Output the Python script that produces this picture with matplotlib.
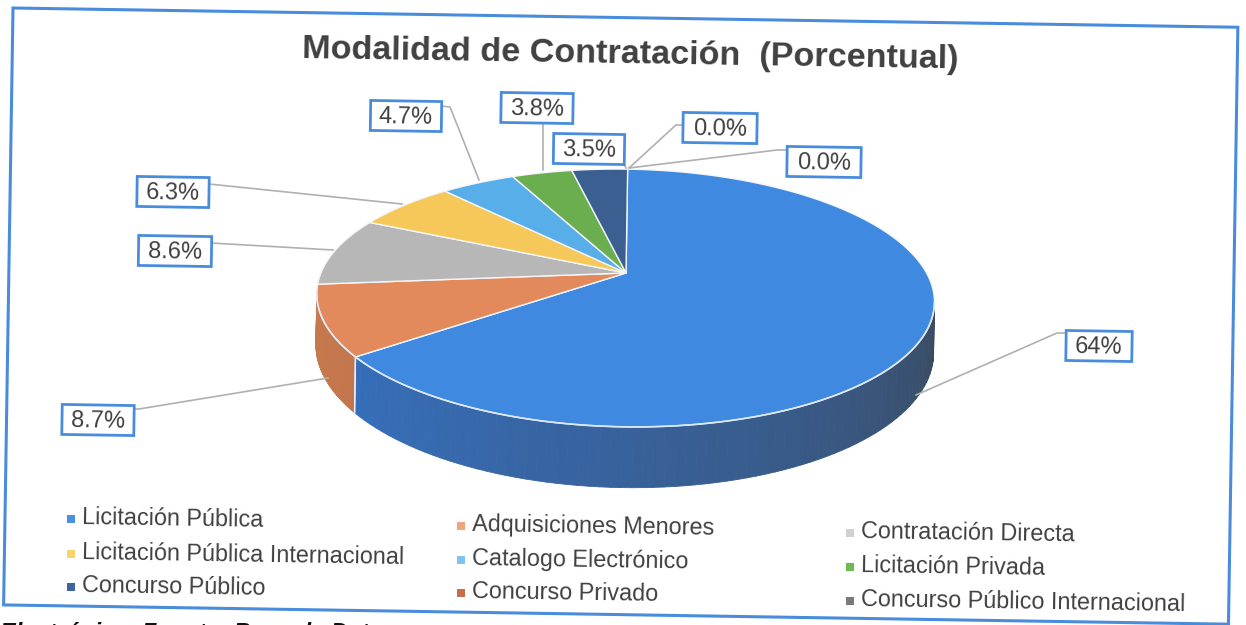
import numpy as np
import matplotlib
matplotlib.use("Agg")
import matplotlib.pyplot as plt
from matplotlib.patches import Polygon, Rectangle
from matplotlib.collections import PolyCollection
from matplotlib.transforms import Affine2D
from matplotlib.colors import to_rgb

# ---------------- data ----------------
categories = ["Licitación Pública", "Adquisiciones Menores", "Contratación Directa",
              "Licitación Pública Internacional", "Catalogo Electrónico", "Licitación Privada",
              "Concurso Público", "Concurso Privado", "Concurso Público Internacional"]
values = [64.0, 8.7, 8.6, 6.3, 4.7, 3.8, 3.5, 0.0, 0.0]
value_labels = ["64%", "8.7%", "8.6%", "6.3%", "4.7%", "3.8%", "3.5%", "0.0%", "0.0%"]
title = "Modalidad de Contratación  (Porcentual)"

# ---------------- styles ----------------
top_colors = ["#3f8ae0", "#e38a5c", "#b7b7b7", "#f6c859", "#58aee9",
              "#6aae4f", "#3a5f90", "#b8623a", "#6e6e6e"]
legend_colors = ["#4a8fe0", "#f0a57c", "#cfd0d6", "#f8d46a", "#7cc4f0",
                 "#6cbc52", "#3f64a2", "#c46e4c", "#7a7a7a"]
side_left = {0: "#3672c4", 1: "#c8794e"}
side_right = {0: "#3a4a5f", 1: "#9a5a3a"}

plt.rcParams["font.family"] = ["Liberation Sans", "DejaVu Sans"]
TXT = "#404040"
BORDER = "#4a8cdc"
TILT = 0.9  # scan skew, degrees clockwise

W, H = 1246, 625
fig = plt.figure(figsize=(W / 100, H / 100), dpi=100)
ax = fig.add_axes([0, 0, 1, 1])
ax.set_xlim(0, W)
ax.set_ylim(H, 0)
ax.axis("off")


def local_tr(x, y):
    return Affine2D().rotate_deg(TILT).translate(x, y) + ax.transData


# ---------------- frame ----------------
ax.add_patch(Rectangle((0, 0), 1225, 597, fill=False, ec=BORDER, lw=2.2,
                       transform=local_tr(13, 8), zorder=1))

# ---------------- title ----------------
ax.text(630, 55, title, fontsize=24.6, fontweight="bold", color=TXT,
        ha="center", va="center", rotation=-TILT, rotation_mode="anchor", zorder=5)

# ---------------- 3D pie (perspective) ----------------
apex = (626, 273)
A_R, B_R, K_P, DEPTH = 303.0, 124.0, 0.194, 49.0
pie_tr = local_tr(*apex)


def proj(theta, drop=0.0):
    u, v = np.cos(theta), np.sin(theta)
    den = 1 + K_P * v
    return A_R * u / den, (-B_R * v + drop) / den


vals = np.array(values, dtype=float)
frac = vals / vals.sum()
cum = np.concatenate([[0], np.cumsum(frac)])
th_start = np.deg2rad(90 - 360 * cum[:-1])
th_end = np.deg2rad(90 - 360 * cum[1:])

vis_lo = -np.pi + np.arcsin(K_P)
vis_hi = -np.arcsin(K_P)

# side walls
for i in range(len(values)):
    lo = max(th_end[i], vis_lo)
    hi = min(th_start[i], vis_hi)
    if hi <= lo:
        continue
    ts = np.linspace(lo, hi, 80)
    polys, cols = [], []
    cl = np.array(to_rgb(side_left.get(i, top_colors[i])))
    cr = np.array(to_rgb(side_right.get(i, top_colors[i])))
    for t0, t1 in zip(ts[:-1], ts[1:]):
        x0, y0 = proj(t0)
        x1, y1 = proj(t1)
        x0b, y0b = proj(t0, DEPTH)
        x1b, y1b = proj(t1, DEPTH)
        polys.append([(x0, y0), (x1, y1), (x1b, y1b), (x0b, y0b)])
        f = ((t0 + t1) / 2 - vis_lo) / (vis_hi - vis_lo)
        f = np.clip(f, 0, 1) ** 1.3
        cols.append(cl * (1 - f) + cr * f)
    ax.add_collection(PolyCollection(polys, facecolors=cols, edgecolors=cols,
                                     linewidths=0.6, transform=pie_tr, zorder=2))
    # seam lines on the side
    for t in (lo, hi):
        if vis_lo + 1e-6 < t < vis_hi - 1e-6:
            xa, ya = proj(t)
            xb, yb = proj(t, DEPTH)
            ax.plot([xa, xb], [ya, yb], color="#e8eef5", lw=1.0,
                    transform=pie_tr, zorder=2.5)

# top face wedges
for i in range(len(values)):
    if frac[i] <= 0:
        continue
    ts = np.linspace(th_start[i], th_end[i], max(4, int(frac[i] * 400)))
    xs, ys = proj(ts)
    pts = [(0, 0)] + list(zip(xs, ys))
    ax.add_patch(Polygon(pts, closed=True, fc=top_colors[i], ec="#f4f6fa",
                         lw=1.0, transform=pie_tr, zorder=3, joinstyle="round"))

# light rim at the front edge of the top face
ts = np.linspace(vis_lo, vis_hi, 200)
xs, ys = proj(ts)
ax.plot(xs, ys, color="#dce8f6", lw=1.2, transform=pie_tr, zorder=3.5)

# ---------------- data labels ----------------
label_pos = [(1099, 346), (98, 420), (175, 251), (173, 192), (406, 116),
             (537, 108), (589, 149), (720, 128), (824, 162)]
label_w = [66, 72, 73, 72, 71, 72, 71, 74, 74]
leaders = [
    [(1066, 333), (1057, 333), (916, 395)],
    [(134, 409), (139, 409), (328, 378)],
    [(211, 243), (333, 250)],
    [(209, 184), (402, 204)],
    [(441, 106), (450, 107), (479, 180)],
    [(543, 123), (543, 170)],
    [(624, 164), (626, 168)],
    [(684, 125), (676, 125), (629, 168)],
    [(787, 150), (777, 150), (629, 168)],
]
for pts in leaders:
    xs, ys = zip(*pts)
    ax.plot(xs, ys, color="#b0b0b0", lw=1.2, zorder=4)

for lab, (cx, cy), w in zip(value_labels, label_pos, label_w):
    ax.add_patch(Rectangle((-w / 2, -15), w, 30, fc="white", ec=BORDER, lw=2.0,
                           transform=local_tr(cx, cy), zorder=6))
    ax.text(cx, cy + 1, lab, fontsize=17, color=TXT, ha="center", va="center",
            rotation=-TILT, rotation_mode="anchor", zorder=7)

# ---------------- legend ----------------
col_x = [82, 472, 861]
row_y = [[518, 553, 586], [525, 559, 592], [532, 566, 600]]
for idx, name in enumerate(categories):
    r, c = divmod(idx, 3)
    tx, ty = col_x[c], row_y[c][r]
    ax.scatter([tx - 11], [ty + 1], s=30, marker="s", color=legend_colors[idx],
               lw=0, zorder=6)
    ax.text(tx, ty, name, fontsize=16.8, color=TXT, ha="left", va="center",
            rotation=-TILT, rotation_mode="anchor", zorder=6)

# partially visible caption below the frame (cut by the scan)
ax.text(0, 634, "Electrónico  Fuente: Base de Datos", fontsize=17,
        fontweight="bold", fontstyle="italic", color="#111111",
        ha="left", va="center", zorder=6)

fig.savefig("out.png", dpi=100)
